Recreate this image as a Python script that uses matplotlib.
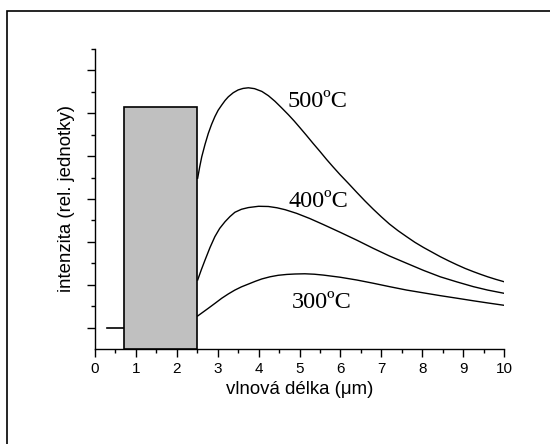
import matplotlib
matplotlib.use("Agg")
import matplotlib.pyplot as plt
from matplotlib.patches import Rectangle

# Data
x500 = [2.51, 2.56, 2.61, 2.69, 2.77, 2.85, 2.93, 3.01, 3.10, 3.18, 3.26, 3.38, 3.50, 3.62,
        3.75, 3.90, 4.08, 4.24, 4.40, 4.56, 4.73, 4.87, 5.01, 5.17, 5.33, 5.50,
        5.66, 5.82, 5.99, 6.20, 6.40, 6.60, 6.80, 7.00, 7.20, 7.41, 7.62, 7.82, 8.03, 8.24,
        8.44, 8.65, 8.85, 9.05, 9.25, 9.42, 9.60, 9.80, 10.0]
y500 = [7.97, 8.50, 8.97, 9.55, 10.06, 10.48, 10.84, 11.14, 11.39, 11.60, 11.77, 11.96, 12.09, 12.16,
        12.19, 12.15, 12.02, 11.82, 11.56, 11.26, 10.93, 10.64, 10.33, 9.97, 9.60, 9.22,
        8.85, 8.50, 8.14, 7.72, 7.31, 6.91, 6.53, 6.17, 5.83, 5.52, 5.24, 4.98, 4.74, 4.52,
        4.31, 4.11, 3.93, 3.76, 3.61, 3.49, 3.37, 3.25, 3.14]

x400 = [2.51, 2.60, 2.69, 2.81, 2.93, 3.05, 3.18, 3.30, 3.42, 3.58, 3.75, 4.00, 4.24, 4.45,
        4.65, 4.93, 5.25, 5.58, 5.99, 6.40, 6.80, 7.20, 7.62, 8.03, 8.44, 8.85, 9.25,
        9.60, 10.0]
y400 = [3.22, 3.70, 4.15, 4.73, 5.24, 5.63, 5.94, 6.18, 6.38, 6.52, 6.60, 6.66, 6.65, 6.59,
        6.50, 6.33, 6.09, 5.81, 5.45, 5.08, 4.70, 4.34, 4.00, 3.67, 3.37, 3.13, 2.91,
        2.75, 2.60]

x300 = [2.51, 2.64, 2.77, 2.94, 3.10, 3.26, 3.42, 3.58, 3.75, 3.92, 4.08, 4.28, 4.48, 4.69,
        4.89, 5.13, 5.36, 5.58, 5.99, 6.40, 6.80, 7.20, 7.62, 8.03, 8.44, 8.85, 9.25,
        9.60, 10.0]
y300 = [1.54, 1.72, 1.90, 2.14, 2.37, 2.57, 2.75, 2.90, 3.03, 3.16, 3.27, 3.37, 3.44, 3.48,
        3.50, 3.51, 3.49, 3.45, 3.35, 3.22, 3.07, 2.91, 2.75, 2.62, 2.49, 2.37, 2.25,
        2.15, 2.04]

labels = ["500ºC", "400ºC", "300ºC"]
label_x = [5.45, 5.45, 5.54]
label_y = [11.31, 6.64, 1.91]

bar_x0, bar_x1, bar_h = 0.7, 2.5, 11.3
tick_line_x = [0.3, 0.7]
tick_line_y = [1.0, 1.0]

xticks = list(range(0, 11))

fig = plt.figure(figsize=(5.5, 4.44), dpi=100)
fig.patch.set_facecolor("white")
# outer frame (only top/left edges visible in the reference)
fig.patches.append(Rectangle((7/550, -0.1), 1.2, (444-11)/444 + 0.1, transform=fig.transFigure,
                             fill=False, edgecolor="black", linewidth=1.2))

ax = fig.add_axes([95/550, (444-349)/444, 409/550, 300/444])
ax.set_xlim(0, 10)
ax.set_ylim(0, 14)

ax.add_patch(Rectangle((bar_x0, 0), bar_x1 - bar_x0, bar_h, facecolor="#c0c0c0",
                       edgecolor="black", linewidth=1.2, zorder=3))
ax.plot(tick_line_x, tick_line_y, color="black", linewidth=1.2)

for xs, ys in [(x500, y500), (x400, y400), (x300, y300)]:
    ax.plot(xs, ys, color="black", linewidth=1.0, solid_joinstyle="round")

for t, lx, ly in zip(labels, label_x, label_y):
    ax.text(lx, ly, t, ha="center", va="baseline", fontsize=17.5, family="Liberation Serif")

for s in ["top", "right"]:
    ax.spines[s].set_visible(False)
for s in ["left", "bottom"]:
    ax.spines[s].set_linewidth(1.0)

ax.set_xticks(xticks)
ax.set_xticks([v + 0.5 for v in xticks[:-1]], minor=True)
ax.set_yticks(range(1, 14, 2))
ax.set_yticks(range(2, 15, 2), minor=True)
ax.tick_params(axis="both", which="major", direction="out", length=6, width=1.0)
ax.tick_params(axis="both", which="minor", direction="out", length=3, width=1.0)
ax.tick_params(axis="y", labelleft=False)
ax.tick_params(axis="x", labelsize=11, pad=3)
for lab in ax.get_xticklabels():
    lab.set_family("Liberation Sans")

ax.set_xlabel("vlnová délka (μm)", fontsize=13.4, family="Liberation Sans", labelpad=4)
ax.set_ylabel("intenzita (rel. jednotky)", fontsize=13.4, family="Liberation Sans", labelpad=8)

fig.savefig("out.png", dpi=100)
